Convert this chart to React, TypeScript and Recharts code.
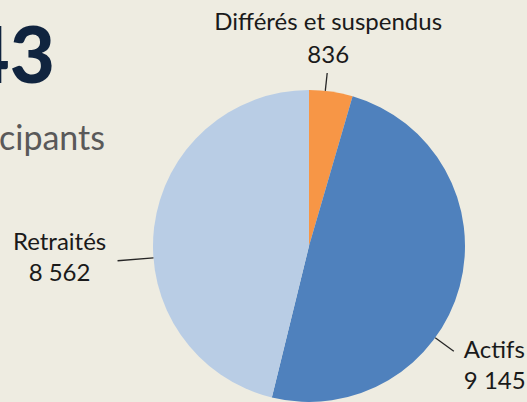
import React from "react";
import { PieChart, Pie, Cell } from "recharts";

const categories = ["Différés et suspendus", "Actifs", "Retraités"];
const values = [836, 9145, 8562];
const valueLabels = ["836", "9 145", "8 562"];
const totalLabel = "18 543";
const subtitle = "Participants";

const COLORS = ["#F79646", "#4F81BD", "#B9CDE5"];
const BG = "#EEECE1";
const FONT = "Lato, 'Open Sans', sans-serif";

// label layout (Excel best-fit): leader angle (deg, recharts convention), leader end radius offset, text offsets
const LABEL_LAYOUT = [
  { angle: 84, len: 18, dx: 1, dy1: -43, dy2: -10, anchor: "middle" },
  { angle: -36, len: 23, dx: 10, dy1: 7, dy2: 38, anchor: "start" },
  { angle: 184.4, len: 36, dx: -58, dy1: -11, dy2: 20, anchor: "middle" },
];

const data = categories.map((name, i) => ({ name, value: values[i], label: valueLabels[i] }));

const RAD = Math.PI / 180;

const renderLabel = (props: any) => {
  const { cx, cy, outerRadius, index } = props;
  const l = LABEL_LAYOUT[index];
  const cos = Math.cos(l.angle * RAD);
  const sin = -Math.sin(l.angle * RAD);
  const x1 = cx + outerRadius * cos;
  const y1 = cy + outerRadius * sin;
  const x2 = cx + (outerRadius + l.len) * cos;
  const y2 = cy + (outerRadius + l.len) * sin;
  return (
    <g>
      <line x1={x1} y1={y1} x2={x2} y2={y2} stroke="#262626" strokeWidth={1.3} />
      <text x={x2 + l.dx} y={y2 + l.dy1} textAnchor={l.anchor} fill="#1a1a1a" fontFamily={FONT} fontSize={24}>
        {categories[index]}
      </text>
      <text x={x2 + l.dx} y={y2 + l.dy2} textAnchor={l.anchor} fill="#1a1a1a" fontFamily={FONT} fontSize={24}>
        {valueLabels[index]}
      </text>
    </g>
  );
};

export default function App() {
  return (
    <div style={{ position: "absolute", left: 0, top: 0, width: 527, height: 402, background: BG, overflow: "hidden" }}>
      <svg width={527} height={402} style={{ position: "absolute", left: 0, top: 0 }}>
        <text x={55} y={83} textAnchor="end" fill="#10243F" fontFamily={FONT} fontWeight={900} fontSize={78}>
          {totalLabel}
        </text>
        <text x={105} y={150} textAnchor="end" fill="#595959" fontFamily={FONT} fontSize={34}>
          {subtitle}
        </text>
      </svg>
      <div style={{ position: "absolute", left: 0, top: 0 }}>
        <PieChart width={527} height={402} margin={{ top: 0, right: 0, bottom: 0, left: 0 }}>
          <Pie
            data={data}
            dataKey="value"
            nameKey="name"
            cx={309}
            cy={246}
            outerRadius={156}
            startAngle={90}
            endAngle={-270}
            stroke="none"
            isAnimationActive={false}
            label={renderLabel}
            labelLine={false}
          >
            {data.map((d, i) => (
              <Cell key={d.name} fill={COLORS[i]} />
            ))}
          </Pie>
        </PieChart>
      </div>
    </div>
  );
}
